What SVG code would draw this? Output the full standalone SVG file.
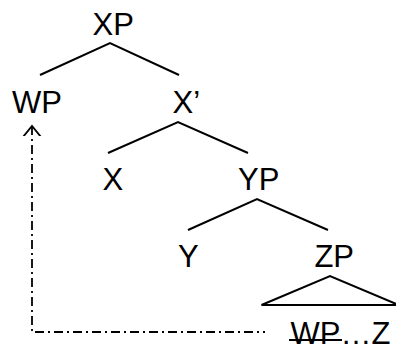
<svg xmlns="http://www.w3.org/2000/svg" width="396" height="345" viewBox="0 0 396 345">
<style>
text{font-family:"Liberation Sans",Arial,sans-serif;font-size:31px;fill:#000}
.br{stroke:#000;stroke-width:2;fill:none}
.mv{stroke:#000;stroke-width:1.8;fill:none;stroke-dasharray:9 4 2 4}
</style>
<defs>
<marker id="ah" viewBox="0 0 20 20" refX="10" refY="10" markerUnits="userSpaceOnUse" markerWidth="20" markerHeight="20" orient="auto-start-reverse">
<path d="M-1 1 L10 10 L-1 19" fill="none" stroke="#000" stroke-width="1.8" stroke-dasharray="none"/>
</marker>
</defs>
<rect width="396" height="345" fill="#fff"/>
<g id="connectors">
<path class="br" d="M40 75 L110 43 L179 75"/>
<path class="br" d="M108 153 L178 122 L248 153"/>
<path class="br" d="M188 230 L257 199 L328 230"/>
<path class="br" d="M261.5 305 L330 276 L398.5 305 Z"/>
<path class="mv" d="M32 126 V332 H265" marker-start="url(#ah)"/>
</g>
<g id="XP"><text x="92.5" y="35">XP</text></g>
<g id="WP"><text x="12" y="112.5">WP</text></g>
<g id="Xbar"><text x="172.5" y="112.5">X’</text></g>
<g id="X"><text x="102.5" y="189.5">X</text></g>
<g id="YP"><text x="238" y="189.5">YP</text></g>
<g id="Y"><text x="178" y="267">Y</text></g>
<g id="ZP"><text x="314.4" y="267">ZP</text></g>
<g id="trace"><text x="290.5" y="343.5">WP…Z</text><line x1="289" y1="340" x2="342" y2="340" stroke="#000" stroke-width="2"/></g>
</svg>
